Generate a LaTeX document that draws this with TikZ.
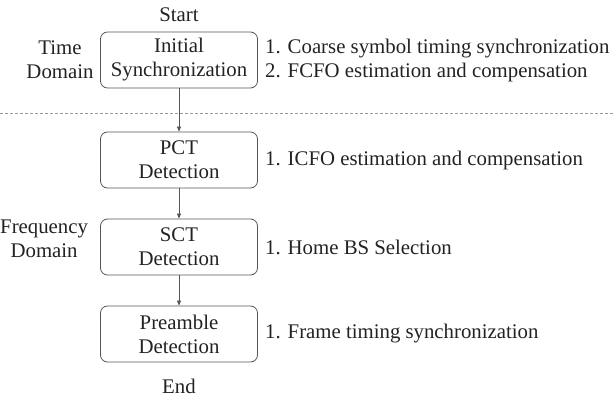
\documentclass[tikz,border=0pt]{standalone}
\usepackage{fontspec}
\setmainfont{Liberation Serif}
\usetikzlibrary{arrows.meta}
\definecolor{ink}{HTML}{222222}
\definecolor{edge}{HTML}{555555}
\definecolor{guide}{HTML}{9A9A9A}
\begin{document}
\begin{tikzpicture}[x=1pt,y=-1pt,
  every node/.style={text=ink,font=\fontsize{20.8}{24}\selectfont},
  stagebox/.style={draw=edge,line width=0.8pt,rounded corners=7pt,minimum width=157pt,minimum height=56pt,align=center,inner sep=0pt},
  flow/.style={draw=edge,line width=0.6pt,-{Triangle[length=5pt,width=4pt]}},
  note/.style={anchor=west,align=left,inner sep=0pt}]
\useasboundingbox (0,0) rectangle (614,399);
% stages
\node[stagebox] (init) at (179,60) {Initial\\Synchronization};
\node[stagebox] (pct) at (179,160) {PCT\\Detection};
\node[stagebox] (sct) at (179,247) {SCT\\Detection};
\node[stagebox] (pre) at (179,334) {Preamble\\Detection};
\node (start) at (179,15) {Start};
\node (end) at (179,386) {End};
% flow
\draw[flow] (init) -- (pct);
\draw[flow] (pct) -- (sct);
\draw[flow] (sct) -- (pre);
% domain separator
\coordinate (sepL) at (0,113);
\coordinate (sepR) at (614,113);
\draw[guide,dashed,line width=0.6pt,dash pattern=on 3pt off 2pt] (sepL) -- (sepR);
% domain labels
\node[align=center,inner sep=0pt] (td) at (60,60) {Time\\Domain};
\node[align=center,inner sep=0pt,anchor=west] (fd) at (0,239) {Frequency\\Domain};
% stage notes
\node[note] (n1) at (265,60) {1. Coarse symbol timing synchronization\\2. FCFO estimation and compensation};
\node[note] (n2) at (265,160) {1. ICFO estimation and compensation};
\node[note] (n3) at (265,247) {1. Home BS Selection};
\node[note] (n4) at (265,334) {1. Frame timing synchronization};
\end{tikzpicture}
\end{document}
